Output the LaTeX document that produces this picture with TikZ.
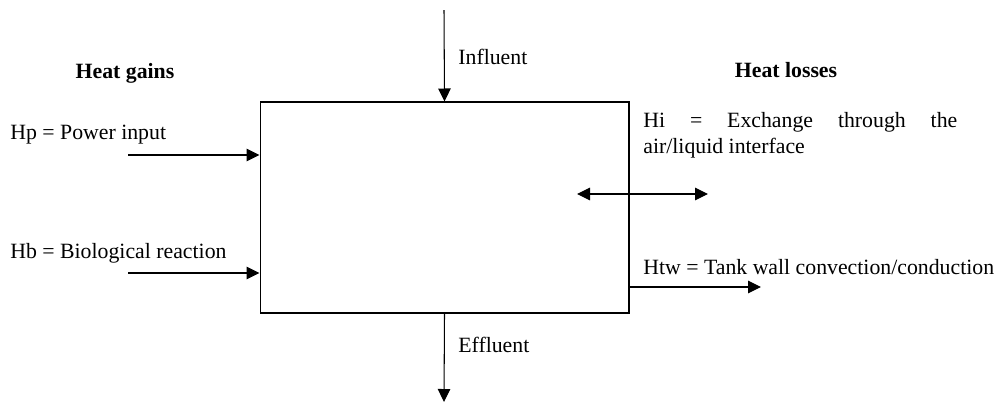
\documentclass[tikz,border=0pt]{standalone}
\usepackage{fontspec}
\setmainfont{Liberation Serif}
\usepackage{tikz}
\usetikzlibrary{arrows.meta}

\begin{document}
\begin{tikzpicture}[
  x=0.02cm, y=-0.02cm,
  every node/.style={font=\fontsize{12.4pt}{14.9pt}\selectfont, inner sep=0pt},
  label/.style={anchor=west},
  head/.style={font=\fontsize{12.4pt}{14.9pt}\selectfont\bfseries},
  tank/.style={draw, line width=0.6pt, minimum width=7.38cm, minimum height=4.22cm},
  flow/.style={-{Triangle[length=0.26cm, width=0.25cm]}, line width=0.6pt},
  both/.style={{Triangle[length=0.26cm, width=0.25cm]}-{Triangle[length=0.26cm, width=0.25cm]}, line width=0.6pt}
]
\useasboundingbox (0,0) rectangle (1000,403);

% Tank
\node[tank] (tank) at (444.5,207.5) {};

% Headings
\node[head] (gains) at (125,73) {Heat gains};
\node[head] (losses) at (786,70) {Heat losses};

% Labels
\node[label] (inf) at (458,57) {Influent};
\node[label] (eff) at (458,345) {Effluent};
\node[label] (hpl) at (10,135) {Hp = Power input};
\node[label] (hbl) at (10,253) {Hb = Biological reaction};
\node[label, text width=6.28cm, align=justify] (hil) at (643,135)
  {\hbadness=10000 Hi = Exchange through the\linebreak air/liquid interface};
\node[label] (htwl) at (643,267) {Htw = Tank wall convection/conduction};

% Free ends
\coordinate (in) at (444,10);
\coordinate (out) at (444,402);
\coordinate (hp) at (128,155);
\coordinate (hb) at (128,273);
\coordinate (hia) at (577,194);
\coordinate (hib) at (708,194);
\coordinate (htw) at (761,287);

% Arrows
\draw[flow] (in) -- (tank.north);
\draw[flow] (tank.south) -- (out);
\draw[flow] (hp) -- (hp -| tank.west);
\draw[flow] (hb) -- (hb -| tank.west);
\draw[both] (hia) -- (hib);
\draw[flow] (htw -| tank.east) -- (htw);

\end{tikzpicture}
\end{document}
